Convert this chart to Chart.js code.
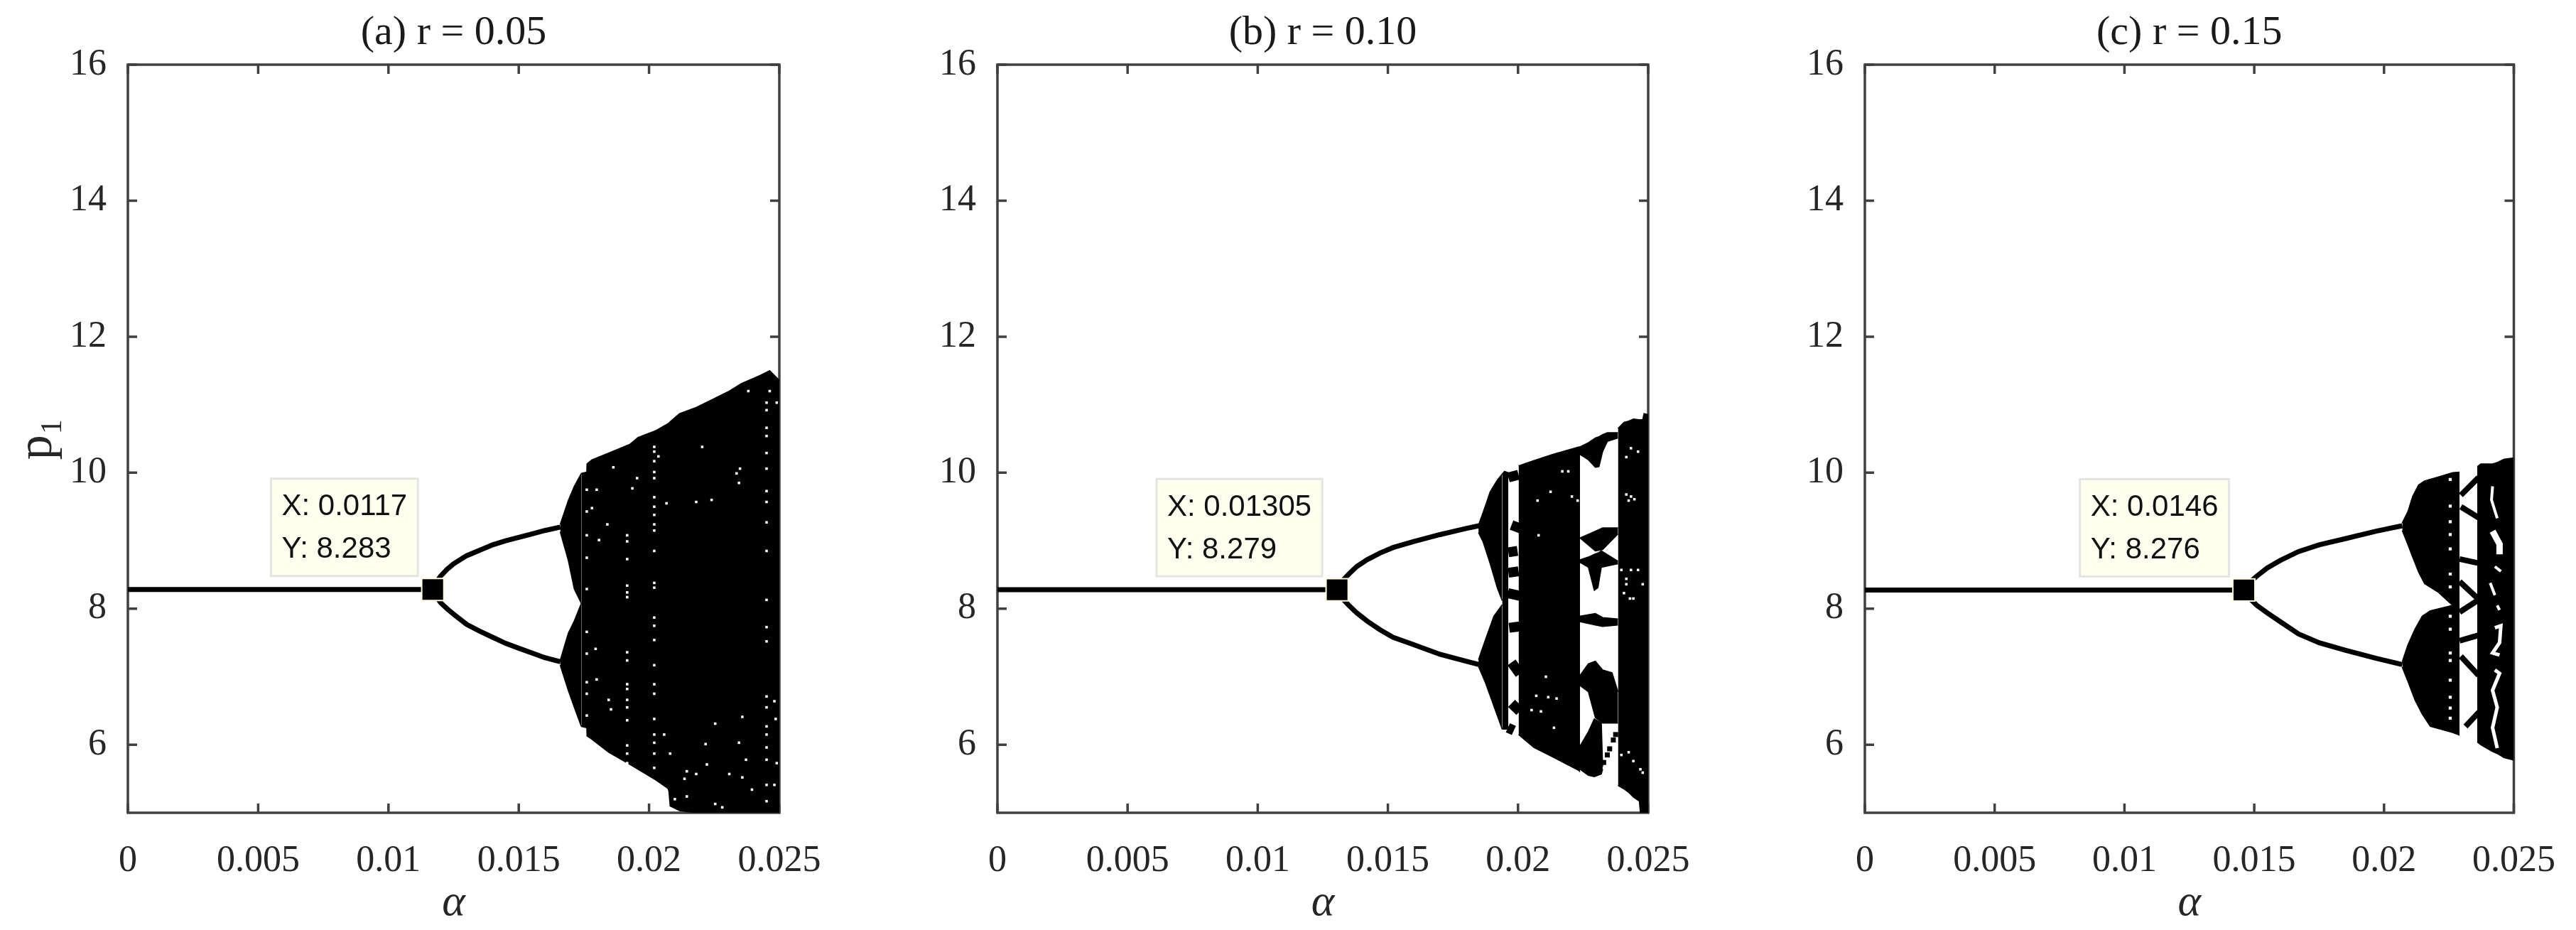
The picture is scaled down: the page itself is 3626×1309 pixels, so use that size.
<!DOCTYPE html>
<html>
<head>
<meta charset="utf-8">
<title>Bifurcation diagrams</title>
<script src="https://cdn.jsdelivr.net/npm/chart.js@4"></script>
<style>
body { margin: 0; background: #fff; width: 3626px; height: 1309px; overflow: hidden; position: relative; }
canvas { position: absolute; top: 0; }
</style>
</head>
<body>
<canvas id="panelA" width="1260" height="1309" style="left:0"></canvas>
<canvas id="panelB" width="1220" height="1309" style="left:1260px"></canvas>
<canvas id="panelC" width="1146" height="1309" style="left:2480px"></canvas>
<script>
const xTickValues = [0, 0.005, 0.01, 0.015, 0.02, 0.025];
const xTickLabels = ['0', '0.005', '0.01', '0.015', '0.02', '0.025'];
const yTickValues = [6, 8, 10, 12, 14, 16];

// panel (a) r = 0.05
const aTip = [0.0117, 8.283];
const aTipLabels = ['X: 0.0117', 'Y: 8.283'];
const aBranchX = [0.0117, 0.01185, 0.012, 0.01225, 0.0125, 0.013, 0.0135, 0.014, 0.0145, 0.015, 0.0155, 0.016, 0.0166];
const aBranchUp = [8.283, 8.4, 8.48, 8.58, 8.66, 8.78, 8.86, 8.94, 9, 9.05, 9.1, 9.15, 9.2];
const aBranchDown = [8.283, 8.17, 8.09, 8, 7.92, 7.77, 7.67, 7.58, 7.49, 7.42, 7.35, 7.28, 7.22];
const aLobeX = [0.01659, 0.0169, 0.01713, 0.0174];
const aLobe1Top = [9.24, 9.59, 9.8, 9.99];
const aLobe1Bot = [9.13, 8.71, 8.29, 8.08];
const aLobe2Top = [7.24, 7.64, 7.82, 8.08];
const aLobe2Bot = [7.17, 6.8, 6.55, 6.27];
const aMainX = [0.0174, 0.01761, 0.01762, 0.01781, 0.01845, 0.01927, 0.01958, 0.02027, 0.02072, 0.02076, 0.02081, 0.02117, 0.02181, 0.02245, 0.02308, 0.02354, 0.02426, 0.02463, 0.02505];
const aMainTop = [9.99, 10.01, 10.13, 10.19, 10.29, 10.42, 10.52, 10.62, 10.72, 10.73, 10.75, 10.87, 10.96, 11.08, 11.2, 11.31, 11.43, 11.5, 11.34];
const aMainBot = [6.27, 6.25, 6.13, 6.08, 5.89, 5.71, 5.64, 5.48, 5.36, 5.32, 5.1, 5.03, 5, 5, 5, 5, 5, 5, 5];
const aGap1761 = [9.75, 9.43, 9.08, 8.75, 8.29, 7.66, 7.34, 6.92, 6.75, 6.43];
const aGap1916 = [9.08, 8.99, 8.73, 8.34, 8.24, 8.17, 7.36, 7.24, 6.89, 6.82, 6.66, 6.55, 6.36, 5.99, 5.87, 5.73];
const aGap2020 = [10.38, 10.31, 10.17, 10.01, 9.92, 9.64, 9.5, 9.38, 9.24, 9.15, 8.85, 8.38, 8.31, 7.87, 7.75, 7.54, 7.17, 6.89, 6.75, 6.38, 6.15, 6.03, 5.87, 5.66];
const aGap2451 = [11.03, 10.92, 10.66, 10.54, 10.29, 10.06, 9.73, 9.57, 9.27, 8.85, 8.13, 7.73, 7.52, 6.71, 6.55, 6.27, 6.15, 5.96, 5.78, 5.41, 5.17];
const aSpeckX = [0.02345, 0.02336, 0.02349, 0.02204, 0.02181, 0.0224, 0.02067, 0.02036, 0.01954, 0.01863, 0.01799, 0.01781, 0.0184, 0.01808, 0.01936, 0.01799, 0.01845, 0.01854, 0.01795, 0.02358, 0.02081, 0.02222, 0.02145, 0.02181, 0.02136, 0.02308, 0.02358, 0.02395, 0.02254, 0.02281, 0.02145, 0.02099, 0.02345, 0.02217, 0.02058, 0.02481, 0.02486, 0.02481, 0.0249, 0.02372, 0.02254, 0.0249, 0.02463, 0.02381];
const aSpeckY = [9.85, 9.99, 10.06, 10.38, 9.57, 9.6, 9.55, 10.24, 9.92, 10.08, 9.75, 9.48, 9.24, 9.01, 9.77, 6.96, 6.66, 6.52, 7.41, 6.41, 5.87, 5.71, 5.61, 5.57, 5.5, 5.57, 5.52, 5.34, 5.13, 5.08, 5.24, 5.2, 6.03, 6.01, 6.15, 6.64, 6.38, 5.41, 5.73, 5.78, 6.31, 11.03, 11.2, 11.2];

// panel (b) r = 0.10
const bTip = [0.01305, 8.279];
const bTipLabels = ['X: 0.01305', 'Y: 8.279'];
const bBranchX = [0.01305, 0.0132, 0.0135, 0.0138, 0.0142, 0.0147, 0.0152, 0.016, 0.017, 0.018, 0.0185];
const bBranchUp = [8.279, 8.39, 8.51, 8.62, 8.72, 8.82, 8.9, 8.99, 9.09, 9.18, 9.22];
const bBranchDown = [8.279, 8.17, 8.05, 7.94, 7.82, 7.69, 7.58, 7.47, 7.33, 7.23, 7.18];
const bLobe1X = [0.01848, 0.01866, 0.01893, 0.0192, 0.01939];
const bLobe1Top = [9.23, 9.42, 9.72, 9.89, 9.98];
const bLobe1Bot = [9.12, 8.98, 8.66, 8.31, 8.12];
const bLobe2X = [0.01848, 0.01875, 0.01907, 0.01939];
const bLobe2Top = [7.25, 7.55, 7.89, 8.06];
const bLobe2Bot = [7.15, 6.91, 6.57, 6.23];
const bNeckX = [0.01939, 0.01948, 0.01963];
const bNeckTop = [9.98, 10.02, 10];
const bNeckBot = [6.23, 6.23, 6.23];
const bIslandX1 = [0.01963, 0.01975, 0.01963, 0.01963, 0.01961, 0.01966, 0.01975, 0.01975, 0.01961];
const bIslandX2 = [0.02002, 0.02016, 0.01998, 0.02002, 0.02007, 0.02007, 0.02007, 0.02007, 0.01984];
const bIslandY1 = [9.93, 9.23, 8.83, 8.53, 8.23, 7.72, 7.21, 6.61, 6.25];
const bIslandY2 = [9.97, 9.17, 8.85, 8.55, 8.19, 7.74, 7.04, 6.49, 6.21];
const bMainX = [0.02002, 0.02061, 0.02134, 0.02234, 0.02238];
const bMainTop = [10.1, 10.18, 10.27, 10.38, 10.38];
const bMainBot = [6.15, 5.96, 5.82, 5.62, 5.6];
const bWin1X = [0.02238, 0.0227, 0.02297, 0.02311, 0.02325, 0.02343, 0.02384];
const bWin1Top = [10.38, 10.44, 10.51, 10.53, 10.56, 10.59, 10.59];
const bWin1Bot = [10.27, 10.19, 10.08, 10.09, 10.31, 10.46, 10.51];
const bWin2X = [0.02238, 0.02297, 0.02325, 0.02384];
const bWin2Top = [9.04, 9.14, 9.19, 9.19];
const bWin2Bot = [9.04, 8.85, 8.87, 9.1];
const bWin3X = [0.02238, 0.0227, 0.02293, 0.02307, 0.0232, 0.02384];
const bWin3Top = [8.72, 8.76, 8.8, 8.82, 8.85, 8.7];
const bWin3Bot = [8.68, 8.61, 8.27, 8.31, 8.61, 8.66];
const bWin4X = [0.02238, 0.02297, 0.02325, 0.02384];
const bWin4Top = [7.89, 7.93, 7.87, 7.85];
const bWin4Bot = [7.81, 7.76, 7.74, 7.76];
const bWin5X = [0.02238, 0.0227, 0.02297, 0.02325, 0.02361, 0.02384];
const bWin5Top = [7.02, 7.19, 7.23, 7.1, 7.06, 6.78];
const bWin5Bot = [6.87, 6.78, 6.4, 6.32, 6.32, 6.32];
const bWin6X = [0.02238, 0.0227, 0.02293, 0.0232, 0.02325];
const bWin6Top = [5.98, 6.19, 6.38, 6.32, 5.68];
const bWin6Bot = [5.64, 5.55, 5.53, 5.57, 5.64];
const bDotX = [0.02329, 0.02343, 0.02352, 0.02366, 0.02375];
const bDotY = [5.74, 5.85, 5.94, 6.07, 6.15];
const bEndX = [0.02384, 0.02407, 0.02425, 0.02443, 0.02466, 0.0247, 0.02479, 0.02484, 0.02505];
const bEndTop = [10.65, 10.74, 10.76, 10.79, 10.78, 10.78, 10.78, 10.87, 10.85];
const bEndBot = [5.4, 5.35, 5.3, 5.23, 5.17, 5, 5, 5, 5];
const bSpeckX = [0.02052, 0.0207, 0.02075, 0.02079, 0.02088, 0.02107, 0.02116, 0.02125, 0.02138, 0.02148, 0.0217, 0.02193, 0.02207, 0.02229, 0.02416, 0.02434, 0.02447, 0.02425, 0.02397, 0.02416, 0.02434, 0.02461, 0.02479, 0.02416, 0.0243, 0.02407, 0.02443, 0.02425, 0.02443, 0.0247, 0.02416, 0.02434, 0.02461, 0.02479, 0.02397];
const bSpeckY = [6.51, 6.72, 9.59, 9.08, 6.49, 7, 6.7, 9.72, 6.25, 6.68, 10.02, 10.02, 9.65, 9.59, 9.68, 9.65, 9.61, 9.59, 8.57, 8.44, 8.57, 8.57, 8.36, 8.36, 8.15, 8.23, 8.15, 5.89, 5.76, 5.64, 10.23, 10.36, 10.31, 5.59, 5.85];

// panel (c) r = 0.15
const cTip = [0.0146, 8.276];
const cTipLabels = ['X: 0.0146', 'Y: 8.276'];
const cBranchX = [0.0146, 0.0148, 0.0151, 0.0155, 0.016, 0.0167, 0.0175, 0.0185, 0.0197, 0.0207];
const cBranchUp = [8.276, 8.38, 8.48, 8.6, 8.71, 8.84, 8.94, 9.03, 9.14, 9.22];
const cBranchDown = [8.276, 8.16, 8.05, 7.94, 7.81, 7.63, 7.5, 7.39, 7.27, 7.18];
const cLobe1X = [0.0207, 0.02092, 0.0211, 0.02133, 0.02156, 0.0221, 0.02264, 0.02291];
const cLobe1Top = [9.26, 9.43, 9.65, 9.82, 9.88, 9.94, 10, 10.01];
const cLobe1Bot = [9.15, 8.94, 8.76, 8.54, 8.37, 8.24, 8.05, 8.01];
const cLobe2X = [0.0207, 0.02092, 0.02119, 0.02147, 0.02178, 0.02264, 0.02291];
const cLobe2Top = [7.22, 7.47, 7.7, 7.89, 7.97, 8.05, 8.05];
const cLobe2Bot = [7.14, 6.93, 6.66, 6.45, 6.27, 6.18, 6.14];
const cStripX1 = [0.02296, 0.02296, 0.02291, 0.02291, 0.02291, 0.02291, 0.02296, 0.02314];
const cStripX2 = [0.02364, 0.02364, 0.02364, 0.02364, 0.02364, 0.02364, 0.02364, 0.02368];
const cStripY1 = [9.67, 9.5, 8.73, 8.4, 7.95, 7.53, 7.3, 6.27];
const cStripY2 = [9.93, 9.34, 8.67, 8.14, 8.13, 7.61, 7.02, 6.49];
const cEndX = [0.02359, 0.02373, 0.02418, 0.02436, 0.02463, 0.02505];
const cEndTop = [10.09, 10.13, 10.13, 10.15, 10.2, 10.22];
const cEndBot = [6.04, 6, 5.9, 5.87, 5.81, 5.77];
const cGap2255 = [9.9, 9.51, 9.28, 9.09, 8.88, 8.51, 8.32, 7.89, 7.7, 7.35, 7.24, 6.95, 6.7, 6.54, 6.39];
const cHole1X = [0.02418, 0.02414, 0.02436];
const cHole1Y = [9.8, 9.6, 9.33];
const cHole2X = [0.02418, 0.02445, 0.02445];
const cHole2Y = [9.14, 8.95, 8.8];
const cHole3X = [0.02427, 0.0245];
const cHole3Y = [8.62, 8.55];
const cHole4X = [0.02409, 0.02427];
const cHole4Y = [8.38, 8.2];
const cHole5X = [0.02436, 0.02445];
const cHole5Y = [8.05, 7.98];
const cHole6X = [0.02427, 0.0245, 0.02445, 0.02418, 0.02445];
const cHole6Y = [7.72, 7.75, 7.5, 7.35, 7.32];
const cHole7X = [0.02427, 0.02445, 0.02418, 0.02436, 0.02418, 0.02436];
const cHole7Y = [7.1, 7.05, 6.8, 6.55, 6.25, 5.95];

const BLACK = '#000';

function zip(xs, ys) {
    return xs.map((x, i) => ({ x: x, y: ys[i] }));
}

function column(alpha, values) {
    return values.map(v => ({ x: alpha, y: v }));
}

function band(xs, top, bot) {
    return [
        { data: zip(xs, top), borderColor: BLACK, borderWidth: 1.5, backgroundColor: BLACK, fill: '+1', pointRadius: 0 },
        { data: zip(xs, bot), borderColor: BLACK, borderWidth: 1.5, pointRadius: 0 }
    ];
}

function curve(xs, ys, width, color) {
    return { data: zip(xs, ys), borderColor: color || BLACK, borderWidth: width, pointRadius: 0, fill: false };
}

function dots(points, radius, color) {
    return { data: points, showLine: false, pointStyle: 'rect', pointRadius: radius, pointBackgroundColor: color, pointBorderWidth: 0 };
}

function marker(tip) {
    return {
        data: [{ x: tip[0], y: tip[1] }], showLine: false, pointStyle: 'rect', pointRadius: 22,
        pointBackgroundColor: BLACK, pointBorderColor: '#fffde0', pointBorderWidth: 2
    };
}

function strips(x1, x2, y1, y2, width) {
    return x1.map((x, i) => curve([x, x2[i]], [y1[i], y2[i]], width));
}

const frameAndTip = {
    id: 'frameAndTip',
    beforeDatasetsDraw(chart) {
        const { ctx, chartArea: a, scales } = chart;
        ctx.save();
        ctx.strokeStyle = '#404040';
        ctx.lineWidth = 3.5;
        ctx.strokeRect(a.left, a.top, a.right - a.left, a.bottom - a.top);
        ctx.beginPath();
        const len = 13;
        xTickValues.forEach(v => {
            const p = scales.x.getPixelForValue(v);
            ctx.moveTo(p, a.bottom); ctx.lineTo(p, a.bottom - len);
            ctx.moveTo(p, a.top); ctx.lineTo(p, a.top + len);
        });
        yTickValues.forEach(v => {
            const p = scales.y.getPixelForValue(v);
            ctx.moveTo(a.left, p); ctx.lineTo(a.left + len, p);
            ctx.moveTo(a.right, p); ctx.lineTo(a.right - len, p);
        });
        ctx.stroke();
        ctx.restore();
    },
    afterDatasetsDraw(chart, args, opts) {
        const { ctx, scales } = chart;
        const mx = scales.x.getPixelForValue(opts.tip[0]);
        const my = scales.y.getPixelForValue(opts.tip[1]);
        ctx.save();
        ctx.font = '42px "Liberation Sans"';
        const w = Math.max(...opts.labels.map(t => ctx.measureText(t).width)) + 30;
        const h = 137;
        const right = mx - 21, bottom = my - 19;
        ctx.fillStyle = '#fffff0';
        ctx.strokeStyle = '#e4e4e0';
        ctx.lineWidth = 3;
        ctx.fillRect(right - w, bottom - h, w, h);
        ctx.strokeRect(right - w, bottom - h, w, h);
        ctx.fillStyle = '#111';
        ctx.textBaseline = 'middle';
        ctx.fillText(opts.labels[0], right - w + 15, bottom - 97);
        ctx.fillText(opts.labels[1], right - w + 15, bottom - 37);
        ctx.restore();
    }
};

function makeChart(id, title, tip, tipLabels, leftWidth, rightPad, showYTitle, datasets) {
    new Chart(document.getElementById(id), {
        type: 'line',
        data: { datasets: datasets },
        plugins: [frameAndTip],
        options: {
            responsive: false,
            animation: false,
            layout: { padding: { right: rightPad } },
            plugins: {
                legend: { display: false },
                tooltip: { enabled: false },
                frameAndTip: { tip: tip, labels: tipLabels },
                title: {
                    display: true, text: title, color: '#1a1a1a', fullSize: false,
                    font: { family: 'Liberation Serif', size: 58, weight: 'normal', lineHeight: 1 },
                    padding: { top: 18, bottom: 15 }
                }
            },
            scales: {
                x: {
                    type: 'linear', min: 0, max: 0.025,
                    afterBuildTicks: s => { s.ticks = xTickValues.map(v => ({ value: v })); },
                    afterFit: s => { s.height = 165; },
                    grid: { display: false },
                    border: { display: false },
                    ticks: {
                        autoSkip: false, maxRotation: 0, color: '#262626', padding: 29,
                        font: { family: 'Liberation Serif', size: 52 },
                        callback: (v, i) => xTickLabels[i]
                    },
                    title: {
                        display: true, text: 'α', color: '#262626', padding: { top: 0, bottom: 0 },
                        font: { family: 'Liberation Serif', style: 'italic', size: 62 }
                    }
                },
                y: {
                    type: 'linear', min: 5, max: 16,
                    afterBuildTicks: s => { s.ticks = yTickValues.map(v => ({ value: v })); },
                    afterFit: s => { s.width = leftWidth; },
                    grid: { display: false },
                    border: { display: false },
                    ticks: {
                        autoSkip: false, color: '#262626', padding: 22,
                        font: { family: 'Liberation Serif', size: 52 }
                    },
                    title: {
                        display: showYTitle, text: 'p₁', color: '#262626', padding: { top: 12, bottom: 0 },
                        font: { family: 'Liberation Serif', size: 70 }
                    }
                }
            }
        }
    });
}

makeChart('panelA', '(a) r = 0.05', aTip, aTipLabels, 180, 163, true, [
    marker(aTip),
    dots(column(0.01761, aGap1761), 2.5, '#fff'),
    dots(column(0.01916, aGap1916), 2.5, '#fff'),
    dots(column(0.0202, aGap2020), 2.5, '#fff'),
    dots(column(0.02451, aGap2451), 2.5, '#fff'),
    dots(zip(aSpeckX, aSpeckY), 2.5, '#fff'),
    curve([0, aTip[0]], [aTip[1], aTip[1]], 7),
    curve(aBranchX, aBranchUp, 7),
    curve(aBranchX, aBranchDown, 7),
    ...band(aMainX, aMainTop, aMainBot),
    ...band(aLobeX, aLobe1Top, aLobe1Bot),
    ...band(aLobeX, aLobe2Top, aLobe2Bot)
]);

makeChart('panelB', '(b) r = 0.10', bTip, bTipLabels, 144, 160, false, [
    marker(bTip),
    dots(zip(bSpeckX, bSpeckY), 2.5, '#fff'),
    dots(zip(bDotX, bDotY), 5, BLACK),
    curve([0, bTip[0]], [bTip[1], bTip[1]], 7),
    curve(bBranchX, bBranchUp, 7),
    curve(bBranchX, bBranchDown, 7),
    ...strips(bIslandX1, bIslandX2, bIslandY1, bIslandY2, 14),
    ...band(bLobe1X, bLobe1Top, bLobe1Bot),
    ...band(bLobe2X, bLobe2Top, bLobe2Bot),
    ...band(bNeckX, bNeckTop, bNeckBot),
    ...band(bMainX, bMainTop, bMainBot),
    ...band(bWin1X, bWin1Top, bWin1Bot),
    ...band(bWin2X, bWin2Top, bWin2Bot),
    ...band(bWin3X, bWin3Top, bWin3Bot),
    ...band(bWin4X, bWin4Top, bWin4Bot),
    ...band(bWin5X, bWin5Top, bWin5Bot),
    ...band(bWin6X, bWin6Top, bWin6Bot),
    ...band(bEndX, bEndTop, bEndBot)
]);

makeChart('panelC', '(c) r = 0.15', cTip, cTipLabels, 145, 79, false, [
    marker(cTip),
    dots(column(0.02255, cGap2255), 3, '#fff'),
    curve(cHole1X, cHole1Y, 4, '#fff'),
    curve(cHole2X, cHole2Y, 9, '#fff'),
    curve(cHole3X, cHole3Y, 4, '#fff'),
    curve(cHole4X, cHole4Y, 4, '#fff'),
    curve(cHole5X, cHole5Y, 4, '#fff'),
    curve(cHole6X, cHole6Y, 5, '#fff'),
    curve(cHole7X, cHole7Y, 5, '#fff'),
    curve([0, cTip[0]], [cTip[1], cTip[1]], 7),
    curve(cBranchX, cBranchUp, 7),
    curve(cBranchX, cBranchDown, 7),
    ...strips(cStripX1, cStripX2, cStripY1, cStripY2, 8),
    ...band(cLobe1X, cLobe1Top, cLobe1Bot),
    ...band(cLobe2X, cLobe2Top, cLobe2Bot),
    ...band(cEndX, cEndTop, cEndBot)
]);
</script>
</body>
</html>
